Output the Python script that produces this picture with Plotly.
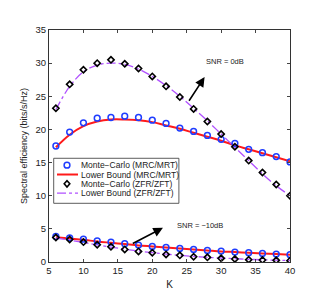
import plotly.graph_objects as go

K = [6, 8, 10, 12, 14, 16, 18, 20, 22, 24, 26, 28, 30, 32, 34, 36, 38, 40]

# SNR = 0 dB
mc_mrc_0 = [17.5, 19.6, 21.0, 21.7, 21.8, 22.0, 21.8, 21.4, 20.9, 20.2, 19.7, 19.1, 18.5, 17.9, 17.0, 16.5, 15.9, 15.1]
lb_mrc_0 = [17.3, 19.2, 20.5, 21.2, 21.5, 21.5, 21.4, 21.1, 20.6, 20.1, 19.5, 18.9, 18.3, 17.6, 17.0, 16.4, 15.8, 15.2]
mc_zf_0 = [23.2, 26.8, 29.0, 30.0, 30.5, 29.9, 29.2, 28.0, 26.5, 24.9, 23.1, 21.2, 19.3, 17.4, 15.3, 13.5, 11.7, 10.0]
lb_zf_0 = [23.0, 26.5, 28.7, 29.7, 30.0, 29.8, 29.1, 28.0, 26.6, 25.0, 23.2, 21.3, 19.3, 17.3, 15.3, 13.3, 11.5, 10.0]

# SNR = -10 dB
mc_mrc_10 = [3.85, 3.65, 3.45, 3.2, 3.0, 2.75, 2.55, 2.35, 2.2, 2.05, 1.9, 1.75, 1.65, 1.5, 1.4, 1.3, 1.2, 1.1]
lb_mrc_10 = [3.75, 3.55, 3.35, 3.1, 2.9, 2.7, 2.5, 2.35, 2.2, 2.05, 1.9, 1.75, 1.6, 1.5, 1.4, 1.3, 1.2, 1.1]
mc_zf_10 = [3.7, 3.4, 3.0, 2.6, 2.3, 1.9, 1.6, 1.4, 1.15, 1.0, 0.8, 0.7, 0.55, 0.45, 0.35, 0.3, 0.25, 0.2]
lb_zf_10 = [3.6, 3.3, 2.95, 2.6, 2.25, 1.95, 1.65, 1.4, 1.2, 1.0, 0.85, 0.7, 0.6, 0.5, 0.4, 0.33, 0.27, 0.22]

names = ["Monte\u2212Carlo (MRC/MRT)", "Lower Bound (MRC/MRT)",
         "Monte\u2212Carlo (ZFR/ZFT)", "Lower Bound (ZFR/ZFT)"]

BLUE = "#1f3dff"
RED = "#ff1a1a"
PURPLE = "#b050ff"

fig = go.Figure()

def circles(y):
    fig.add_trace(go.Scatter(x=K, y=y, mode="markers", name=names[0], showlegend=False,
                             marker=dict(symbol="circle-open", size=5.8, color=BLUE, line=dict(width=1.5, color=BLUE))))

def redline(y):
    fig.add_trace(go.Scatter(x=K, y=y, mode="lines", name=names[1], showlegend=False,
                             line=dict(color=RED, width=2), line_shape="spline"))

def diamonds(y):
    fig.add_trace(go.Scatter(x=K, y=y, mode="markers", name=names[2], showlegend=False,
                             marker=dict(symbol="diamond-open", size=4.8, color="black", line=dict(width=1.6, color="black"))))

def purpleline(y):
    fig.add_trace(go.Scatter(x=K, y=y, mode="lines", name=names[3], showlegend=False,
                             line=dict(color=PURPLE, width=1.3, dash="dashdot"), line_shape="spline"))

redline(lb_mrc_0)
purpleline(lb_zf_0)
redline(lb_mrc_10)
purpleline(lb_zf_10)
circles(mc_mrc_0)
diamonds(mc_zf_0)
circles(mc_mrc_10)
diamonds(mc_zf_10)

fig.update_layout(
    width=311, height=292,
    margin=dict(l=41, r=29, t=22, b=34),
    paper_bgcolor="white", plot_bgcolor="white",
    font=dict(family="Liberation Sans, Arial, sans-serif", size=9.5, color="#222"),
    showlegend=False,
    xaxis=dict(range=[5, 40], tickvals=[5, 10, 15, 20, 25, 30, 35, 40],
               ticks="inside", ticklen=3, showline=True, linecolor="#333", linewidth=1,
               mirror="ticks", showgrid=False, zeroline=False,
               title=dict(text="K", standoff=5, font=dict(size=10))),
    yaxis=dict(range=[0, 35], tickvals=[0, 5, 10, 15, 20, 25, 30, 35],
               ticks="inside", ticklen=3, showline=True, linecolor="#333", linewidth=1,
               mirror="ticks", showgrid=False, zeroline=False,
               title=dict(text="Spectral efficiency (bits/s/Hz)", standoff=6, font=dict(size=9))),
)

# ---- manual compact legend (plot-area paper coordinates) ----
PW, PH = 241.0, 236.0
def px(dx):
    return dx / PW
def py(dy):
    return dy / PH

lx0, lx1, ly0, ly1 = 0.0195, 0.539, 0.253, 0.447
fig.add_shape(type="rect", xref="paper", yref="paper", x0=lx0, x1=lx1, y0=ly0, y1=ly1,
              fillcolor="white", line=dict(color="#333", width=0.8), layer="above")
rows = [0.4174, 0.3771, 0.3369, 0.2966]
mx = 0.0747
sx0, sx1 = 0.0332, 0.1203
tx = 0.128
fig.add_shape(type="circle", xref="paper", yref="paper",
              x0=mx - px(2.9), x1=mx + px(2.9), y0=rows[0] - py(2.9), y1=rows[0] + py(2.9),
              line=dict(color=BLUE, width=1.5), layer="above")
fig.add_shape(type="line", xref="paper", yref="paper", x0=sx0, x1=sx1, y0=rows[1], y1=rows[1],
              line=dict(color=RED, width=2), layer="above")
r2 = rows[2]
fig.add_shape(type="path", xref="paper", yref="paper",
              path=f"M {mx - px(2.8)} {r2} L {mx} {r2 + py(3.2)} L {mx + px(2.8)} {r2} L {mx} {r2 - py(3.2)} Z",
              line=dict(color="black", width=1.6), layer="above")
fig.add_shape(type="line", xref="paper", yref="paper", x0=sx0, x1=sx1, y0=rows[3], y1=rows[3],
              line=dict(color=PURPLE, width=1.3, dash="dashdot"), layer="above")
for name, ry in zip(names, rows):
    fig.add_annotation(x=tx, y=ry, xref="paper", yref="paper", text=name, showarrow=False,
                       xanchor="left", yanchor="middle", borderpad=0,
                       font=dict(size=8.5, color="#222"))

fig.add_annotation(x=27.6, y=27.9, ax=25.2, ay=24.1, xref="x", yref="y", axref="x", ayref="y",
                   text="", showarrow=True, arrowhead=2, arrowsize=1.2, arrowwidth=1.6, arrowcolor="black")
fig.add_annotation(x=30.5, y=30.2, xref="x", yref="y", text="SNR = 0dB", showarrow=False,
                   font=dict(size=7.5, color="#222"))
fig.add_annotation(x=21.55, y=5.15, ax=16.95, ay=2.67, xref="x", yref="y", axref="x", ayref="y",
                   text="", showarrow=True, arrowhead=2, arrowsize=1.2, arrowwidth=1.6, arrowcolor="black")
fig.add_annotation(x=27.0, y=5.53, xref="x", yref="y", text="SNR = \u221210dB", showarrow=False,
                   font=dict(size=7.5, color="#222"))

fig.write_html("out.html")
